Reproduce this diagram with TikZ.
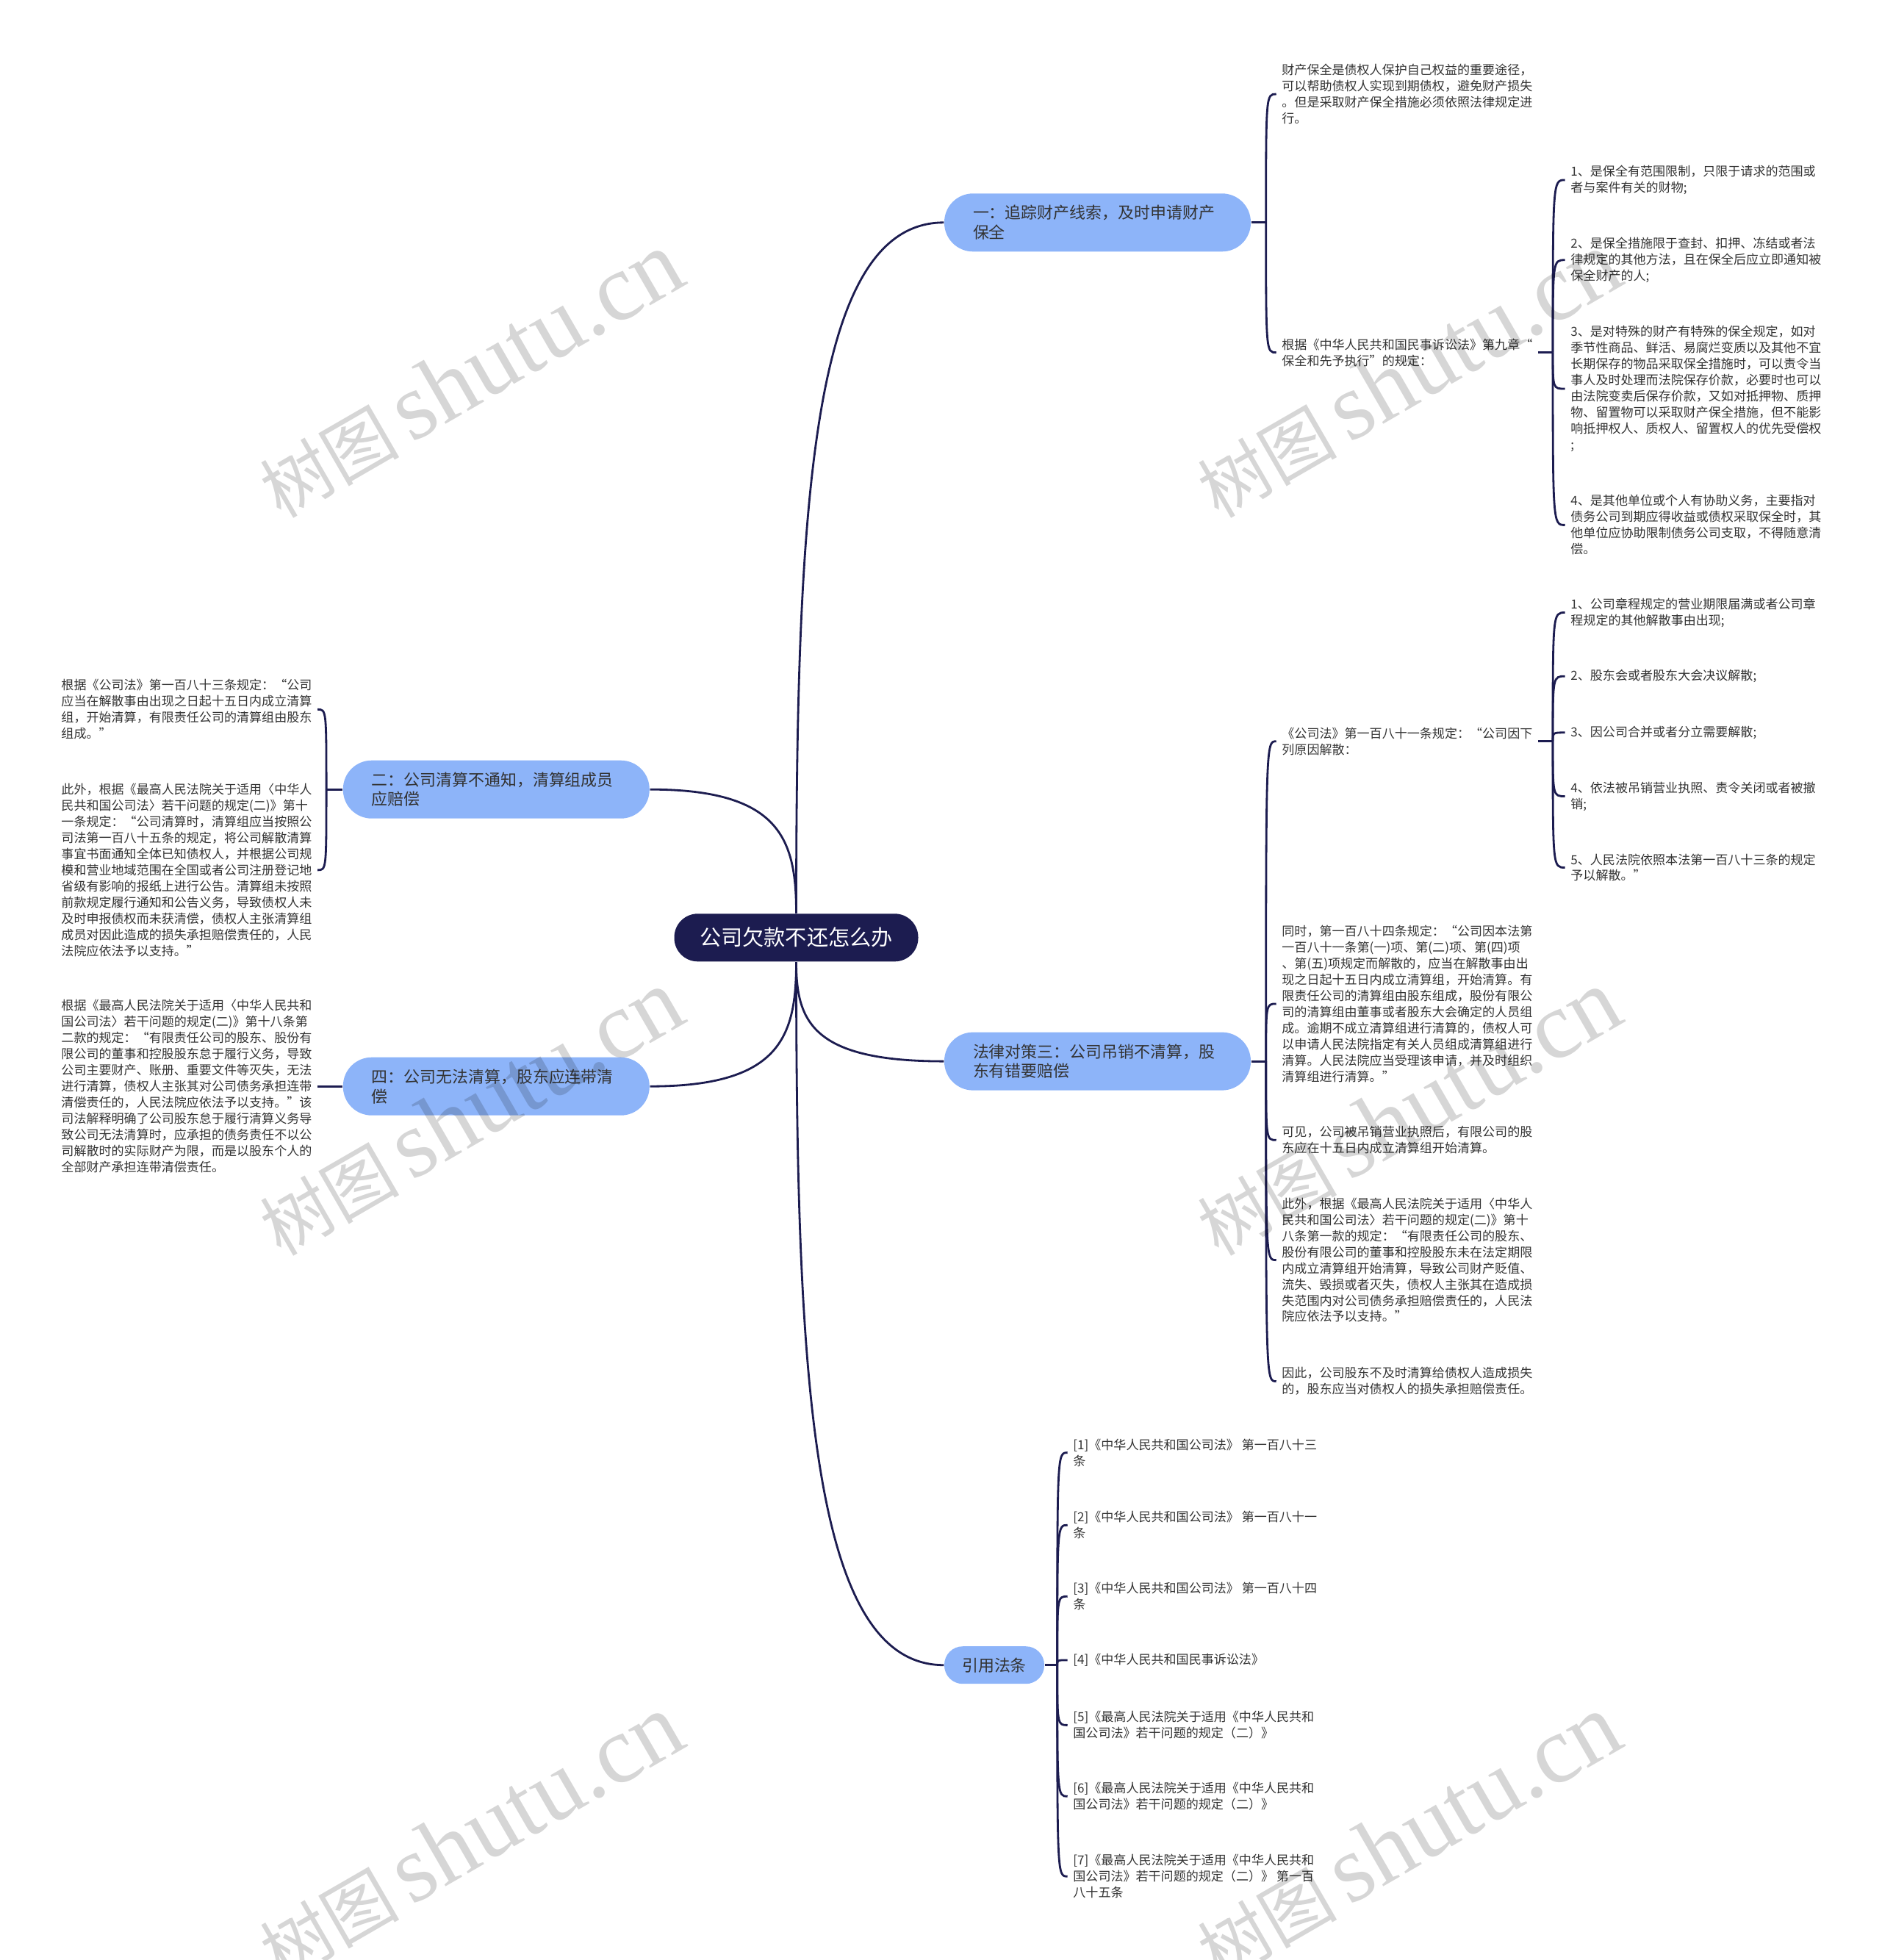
\documentclass[tikz,border=0pt]{standalone}
\usepackage{fontspec}
\setmainfont{Noto Sans CJK SC}
\newfontfamily\wmlatin{Liberation Serif}
\usetikzlibrary{positioning}
\definecolor{rootnavy}{HTML}{1C1C50}
\definecolor{branchblue}{HTML}{8DB4F9}
\definecolor{linknavy}{HTML}{1C1C50}
\definecolor{leaftext}{HTML}{333333}

\begin{document}
\begin{tikzpicture}[
  every node/.style={font=\fontsize{4.85pt}{6.25pt}\selectfont},
  rootnode/.style={
    fill=rootnavy, text=white, rounded corners=0.32cm,
    minimum width=3.32cm, minimum height=0.65cm, inner sep=0pt,
    font=\fontsize{8.3pt}{10pt}\selectfont,
  },
  branch/.style={
    fill=branchblue, text=leaftext, rounded corners=0.39cm,
    text width=3.39cm, inner xsep=0.39cm, inner ysep=0.05cm,
    minimum height=0.79cm, align=left,
    font=\fontsize{6.24pt}{7.65pt}\selectfont,
  },
  refbranch/.style={
    fill=branchblue, text=leaftext, rounded corners=0.25cm,
    minimum width=1.36cm, minimum height=0.51cm, inner sep=0pt,
    font=\fontsize{6.24pt}{7.65pt}\selectfont,
  },
  leaf/.style={text=leaftext, align=left, inner xsep=0.07cm, inner ysep=0.04cm},
  link/.style={draw=linknavy, line width=0.8pt},
  watermark/.style={text=black, text opacity=0.16, rotate=30, inner sep=0pt},
]
  \useasboundingbox (0,0) rectangle (25.6,-26.67);

  \node[rootnode] (root) at (10.835,-12.758) {公司欠款不还怎么办};

  \node[branch, anchor=west] (b1) at (12.843,-3.028) {一：追踪财产线索，及时申请财产\\保全};
  \node[branch, anchor=east] (b2) at (8.845,-10.742) {二：公司清算不通知，清算组成员\\应赔偿};
  \node[branch, anchor=west] (b3) at (12.843,-14.441) {法律对策三：公司吊销不清算，股\\东有错要赔偿};
  \node[branch, anchor=east] (b4) at (8.845,-14.782) {四：公司无法清算，股东应连带清\\偿};
  \node[refbranch, anchor=west] (bref) at (12.843,-22.657) {引用法条};

  \node[leaf, anchor=west] (l1a) at (17.367,-1.28) {财产保全是债权人保护自己权益的重要途径，\\可以帮助债权人实现到期债权，避免财产损失\\。但是采取财产保全措施必须依照法律规定进\\行。};
  \node[leaf, anchor=west] (l1b) at (17.367,-4.797) {根据《中华人民共和国民事诉讼法》第九章“\\保全和先予执行”的规定：};

  \node[leaf, anchor=west] (s1) at (21.297,-2.449) {1、是保全有范围限制，只限于请求的范围或\\者与案件有关的财物;};
  \node[leaf, anchor=west] (s2) at (21.297,-3.538) {2、是保全措施限于查封、扣押、冻结或者法\\律规定的其他方法，且在保全后应立即通知被\\保全财产的人;};
  \node[leaf, anchor=west] (s3) at (21.297,-5.290) {3、是对特殊的财产有特殊的保全规定，如对\\季节性商品、鲜活、易腐烂变质以及其他不宜\\长期保存的物品采取保全措施时，可以责令当\\事人及时处理而法院保存价款，必要时也可以\\由法院变卖后保存价款，又如对抵押物、质押\\物、留置物可以采取财产保全措施，但不能影\\响抵押权人、质权人、留置权人的优先受偿权\\;};
  \node[leaf, anchor=west] (s4) at (21.297,-7.144) {4、是其他单位或个人有协助义务，主要指对\\债务公司到期应得收益或债权采取保全时，其\\他单位应协助限制债务公司支取，不得随意清\\偿。};

  \node[leaf, anchor=east] (l2a) at (4.321,-9.653) {根据《公司法》第一百八十三条规定：“公司\\应当在解散事由出现之日起十五日内成立清算\\组，开始清算，有限责任公司的清算组由股东\\组成。”};
  \node[leaf, anchor=east] (l2b) at (4.321,-11.839) {此外，根据《最高人民法院关于适用〈中华人\\民共和国公司法〉若干问题的规定(二)》第十\\一条规定：“公司清算时，清算组应当按照公\\司法第一百八十五条的规定，将公司解散清算\\事宜书面通知全体已知债权人，并根据公司规\\模和营业地域范围在全国或者公司注册登记地\\省级有影响的报纸上进行公告。清算组未按照\\前款规定履行通知和公告义务，导致债权人未\\及时申报债权而未获清偿，债权人主张清算组\\成员对因此造成的损失承担赔偿责任的，人民\\法院应依法予以支持。”};

  \node[leaf, anchor=east] (l4a) at (4.321,-14.782) {根据《最高人民法院关于适用〈中华人民共和\\国公司法〉若干问题的规定(二)》第十八条第\\二款的规定：“有限责任公司的股东、股份有\\限公司的董事和控股股东怠于履行义务，导致\\公司主要财产、账册、重要文件等灭失，无法\\进行清算，债权人主张其对公司债务承担连带\\清偿责任的，人民法院应依法予以支持。”该\\司法解释明确了公司股东怠于履行清算义务导\\致公司无法清算时，应承担的债务责任不以公\\司解散时的实际财产为限，而是以股东个人的\\全部财产承担连带清偿责任。};

  \node[leaf, anchor=west] (l3a) at (17.367,-10.087) {《公司法》第一百八十一条规定：“公司因下\\列原因解散：};
  \node[leaf, anchor=west] (l3b) at (17.367,-13.659) {同时，第一百八十四条规定：“公司因本法第\\一百八十一条第(一)项、第(二)项、第(四)项\\、第(五)项规定而解散的，应当在解散事由出\\现之日起十五日内成立清算组，开始清算。有\\限责任公司的清算组由股东组成，股份有限公\\司的清算组由董事或者股东大会确定的人员组\\成。逾期不成立清算组进行清算的，债权人可\\以申请人民法院指定有关人员组成清算组进行\\清算。人民法院应当受理该申请，并及时组织\\清算组进行清算。”};
  \node[leaf, anchor=west] (l3c) at (17.367,-15.513) {可见，公司被吊销营业执照后，有限公司的股\\东应在十五日内成立清算组开始清算。};
  \node[leaf, anchor=west] (l3d) at (17.367,-17.146) {此外，根据《最高人民法院关于适用〈中华人\\民共和国公司法〉若干问题的规定(二)》第十\\八条第一款的规定：“有限责任公司的股东、\\股份有限公司的董事和控股股东未在法定期限\\内成立清算组开始清算，导致公司财产贬值、\\流失、毁损或者灭失，债权人主张其在造成损\\失范围内对公司债务承担赔偿责任的，人民法\\院应依法予以支持。”};
  \node[leaf, anchor=west] (l3e) at (17.367,-18.796) {因此，公司股东不及时清算给债权人造成损失\\的，股东应当对债权人的损失承担赔偿责任。};

  \node[leaf, anchor=west] (t1) at (21.297,-8.335) {1、公司章程规定的营业期限届满或者公司章\\程规定的其他解散事由出现;};
  \node[leaf, anchor=west] (t2) at (21.297,-9.202) {2、股东会或者股东大会决议解散;};
  \node[leaf, anchor=west] (t3) at (21.297,-9.968) {3、因公司合并或者分立需要解散;};
  \node[leaf, anchor=west] (t4) at (21.297,-10.835) {4、依法被吊销营业执照、责令关闭或者被撤\\销;};
  \node[leaf, anchor=west] (t5) at (21.297,-11.805) {5、人民法院依照本法第一百八十三条的规定\\予以解散。”};

  \node[leaf, anchor=west] (c1) at (14.527,-19.766) {[1]《中华人民共和国公司法》 第一百八十三\\条};
  \node[leaf, anchor=west] (c2) at (14.527,-20.752) {[2]《中华人民共和国公司法》 第一百八十一\\条};
  \node[leaf, anchor=west] (c3) at (14.527,-21.722) {[3]《中华人民共和国公司法》 第一百八十四\\条};
  \node[leaf, anchor=west] (c4) at (14.527,-22.589) {[4]《中华人民共和国民事诉讼法》};
  \node[leaf, anchor=west] (c5) at (14.527,-23.474) {[5]《最高人民法院关于适用《中华人民共和\\国公司法》若干问题的规定（二）》};
  \node[leaf, anchor=west] (c6) at (14.527,-24.443) {[6]《最高人民法院关于适用《中华人民共和\\国公司法》若干问题的规定（二）》};
  \node[leaf, anchor=west] (c7) at (14.527,-25.532) {[7]《最高人民法院关于适用《中华人民共和\\国公司法》若干问题的规定（二）》 第一百\\八十五条};

  \draw[link] (root.north) .. controls +(0,5.64) and +(-1.79,0) .. (b1.west);
  \draw[link] (root.north) .. controls +(0,1.01) and +(1.77,0) .. (b2.east);
  \draw[link] (root.south) .. controls +(0,-0.81) and +(-1.79,0) .. (b3.west);
  \draw[link] (root.south) .. controls +(0,-1.02) and +(1.77,0) .. (b4.east);
  \draw[link] (root.south) .. controls +(0,-5.74) and +(-1.79,0) .. (bref.west);

  \coordinate (j1) at ([xshift=0.2cm]b1.east);
  \coordinate (j1b) at ([xshift=0.2cm]l1b.east);
  \coordinate (j2) at ([xshift=-0.22cm]b2.west);
  \coordinate (j3) at ([xshift=0.2cm]b3.east);
  \coordinate (j3a) at ([xshift=0.2cm]l3a.east);
  \coordinate (jref) at ([xshift=0.17cm]bref.east);

  \draw[link] (b1.east) -- (j1);
  \foreach \n in {l1a,l1b}
    \draw[link] (j1) .. controls (j1 |- \n.west) .. (\n.west);
  \draw[link] (l1b.east) -- (j1b);
  \foreach \n in {s1,s2,s3,s4}
    \draw[link] (j1b) .. controls (j1b |- \n.west) .. (\n.west);
  \draw[link] (b2.west) -- (j2);
  \foreach \n in {l2a,l2b}
    \draw[link] (j2) .. controls (j2 |- \n.east) .. (\n.east);
  \draw[link] (b4.west) -- (l4a.east);
  \draw[link] (b3.east) -- (j3);
  \foreach \n in {l3a,l3b,l3c,l3d,l3e}
    \draw[link] (j3) .. controls (j3 |- \n.west) .. (\n.west);
  \draw[link] (l3a.east) -- (j3a);
  \foreach \n in {t1,t2,t3,t4,t5}
    \draw[link] (j3a) .. controls (j3a |- \n.west) .. (\n.west);
  \draw[link] (bref.east) -- (jref);
  \foreach \n in {c1,c2,c3,c4,c5,c6,c7}
    \draw[link] (jref) .. controls (jref |- \n.west) .. (\n.west);

  \foreach \x/\y [count=\i] in {6.40/-5.10, 19.16/-5.10, 6.40/-15.14, 19.16/-15.14, 6.40/-25.0, 19.16/-25.0}
    \node[watermark] (wm\i) at (\x,\y) {\fontsize{27pt}{27pt}\selectfont 树图\,\wmlatin\fontsize{37pt}{37pt}\selectfont shutu.cn};
\end{tikzpicture}
\end{document}
